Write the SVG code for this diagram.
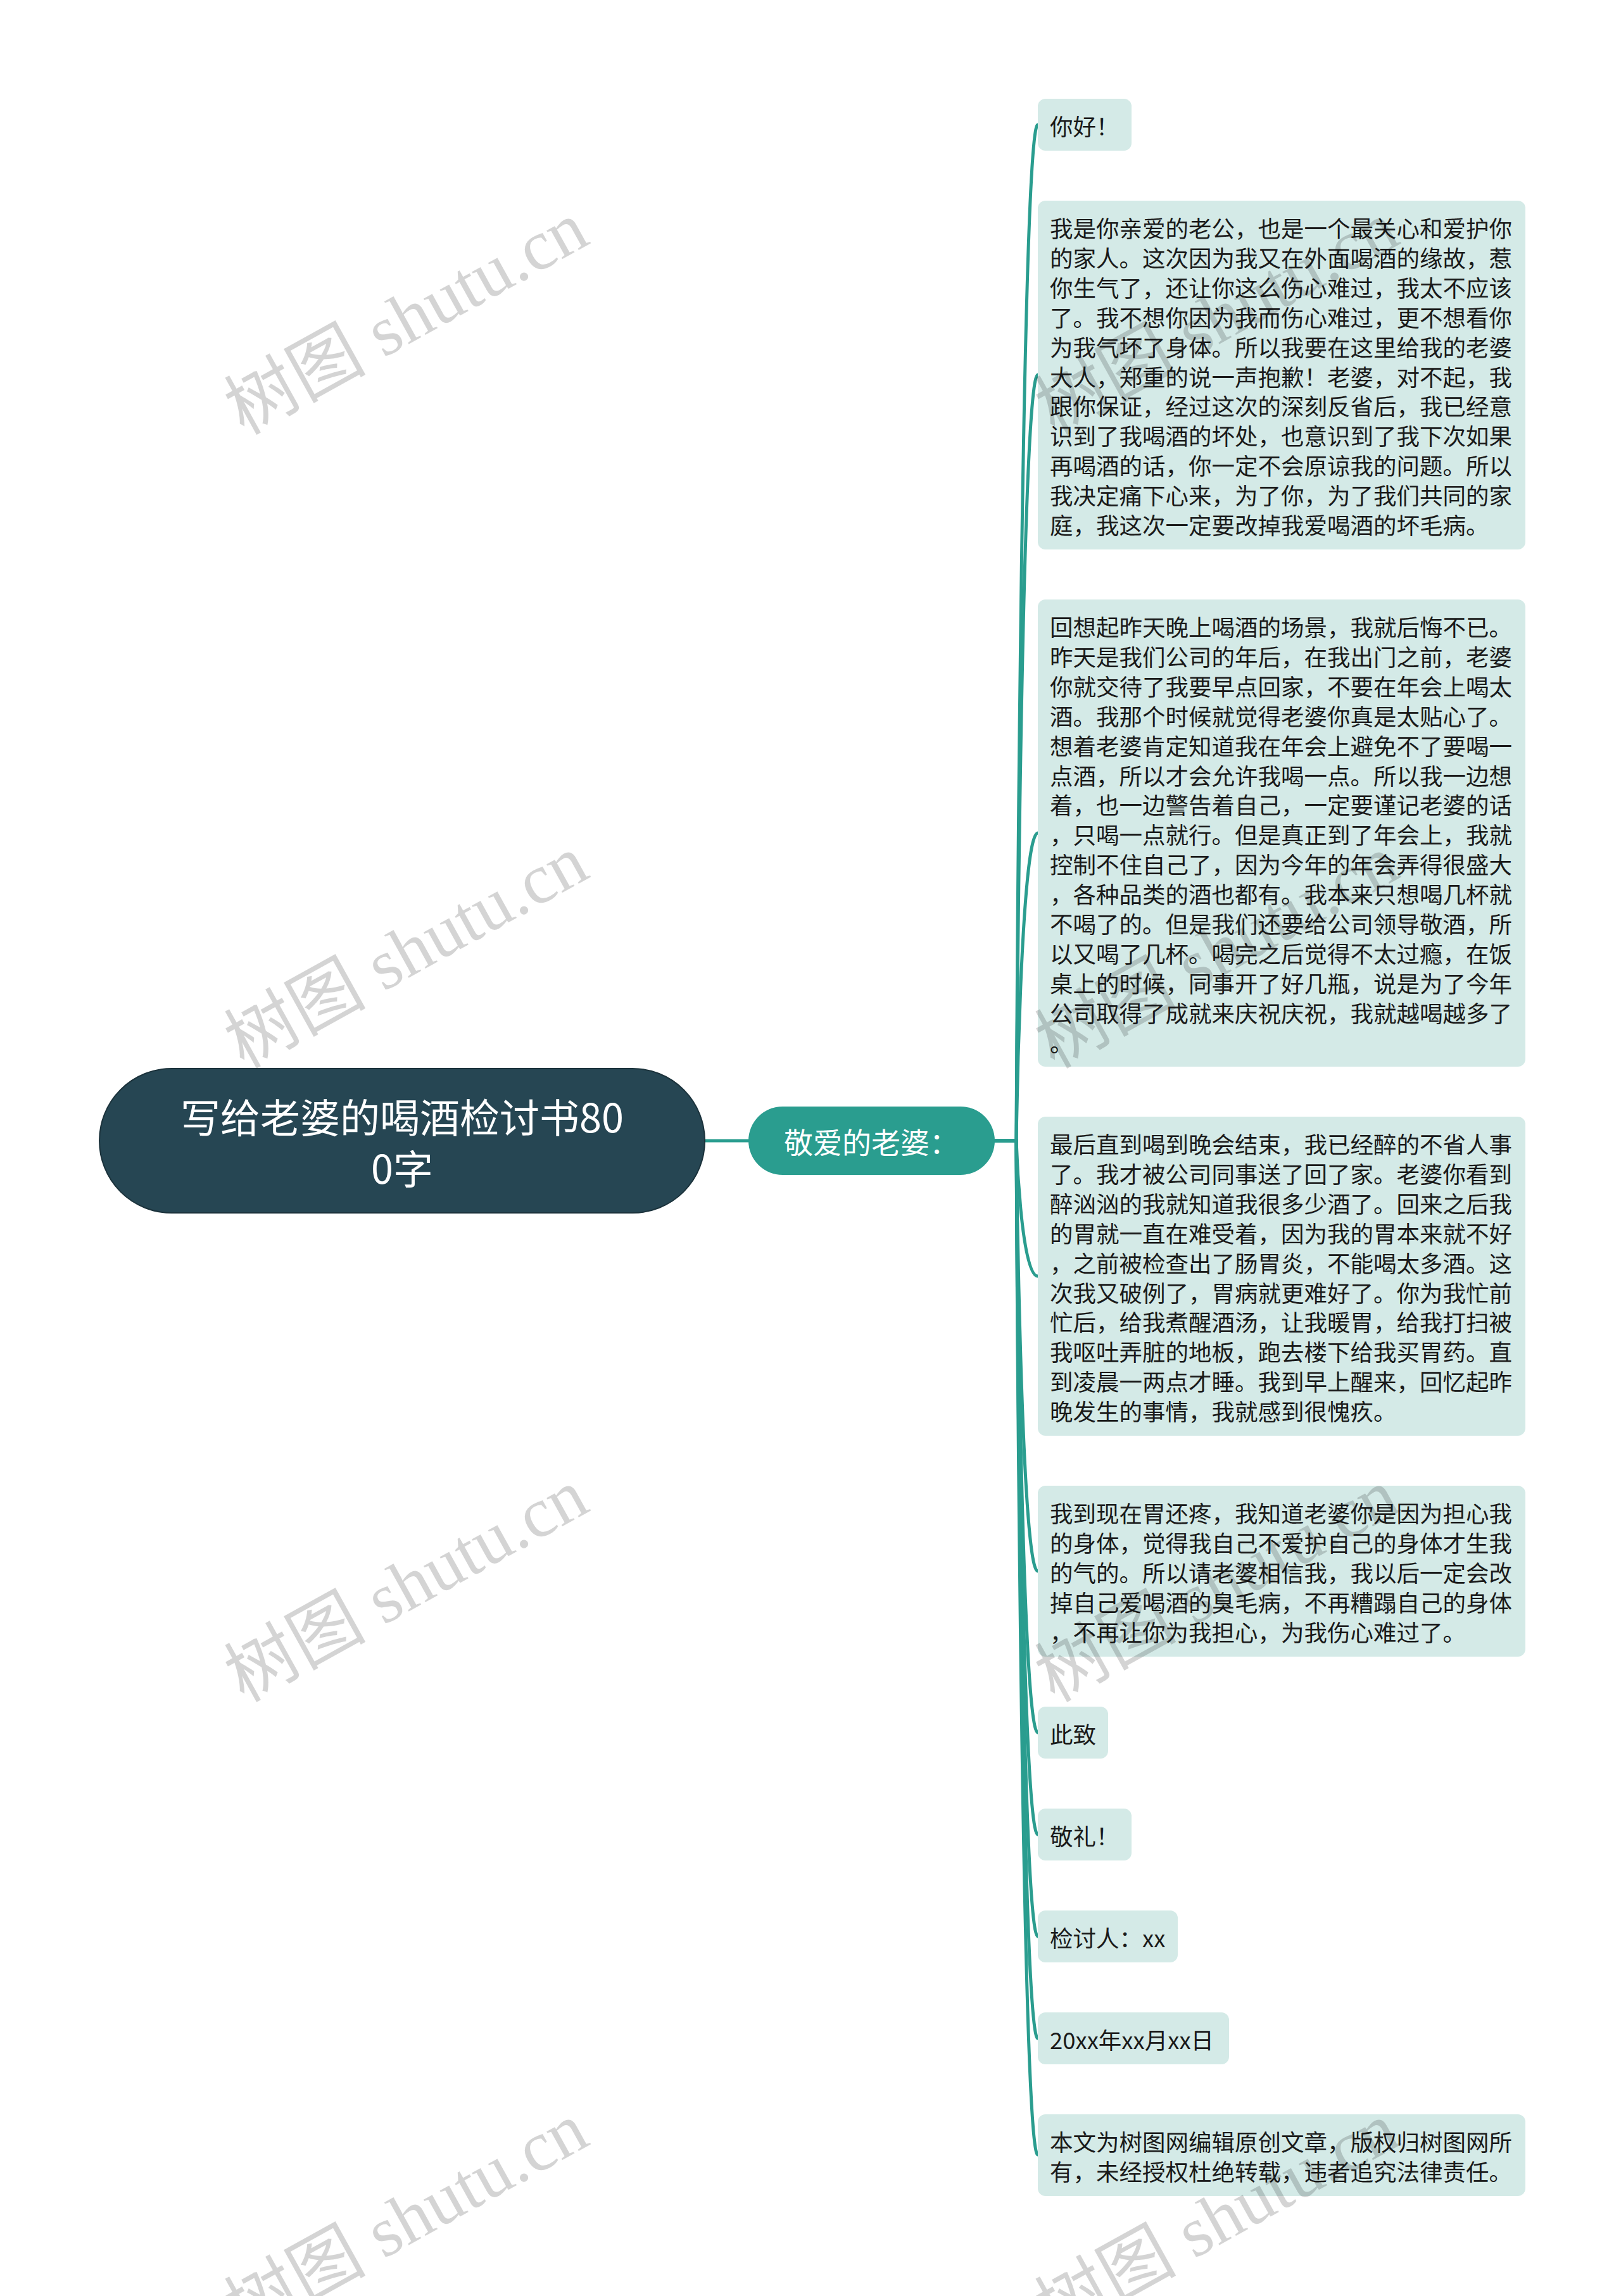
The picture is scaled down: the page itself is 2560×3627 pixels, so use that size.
<svg xmlns="http://www.w3.org/2000/svg" width="2560" height="3627" viewBox="0 0 2560 3627">
<style>
.leaf rect{fill:#d4eae7;}
.leaf text, .leaf{font-family:"Noto Sans CJK SC","Noto Sans",sans-serif;font-size:36.5px;fill:#1a1a1a;}
.conn{fill:none;stroke:#2a9d8f;stroke-width:5;stroke-linecap:round;}
.wm{font-family:"Liberation Serif","Noto Sans CJK SC",serif;font-size:112px;fill:#000;fill-opacity:0.17;}
</style>
<rect x="0" y="0" width="2560" height="3627" fill="#ffffff"/>
<g id="connectors">
<line class="conn" x1="1113" y1="1802" x2="1182" y2="1802"/>
<path class="conn" d="M1571,1802 H1605 C1605,1802 1612,197 1639,197"/>
<path class="conn" d="M1571,1802 H1605 C1605,1802 1612,592 1639,592"/>
<path class="conn" d="M1571,1802 H1605 C1605,1802 1612,1316 1639,1316"/>
<path class="conn" d="M1571,1802 H1605 C1605,1802 1612,2016 1639,2016"/>
<path class="conn" d="M1571,1802 H1605 C1605,1802 1612,2482 1639,2482"/>
<path class="conn" d="M1571,1802 H1605 C1605,1802 1612,2737 1639,2737"/>
<path class="conn" d="M1571,1802 H1605 C1605,1802 1612,2898 1639,2898"/>
<path class="conn" d="M1571,1802 H1605 C1605,1802 1612,3059 1639,3059"/>
<path class="conn" d="M1571,1802 H1605 C1605,1802 1612,3220 1639,3220"/>
<path class="conn" d="M1571,1802 H1605 C1605,1802 1612,3404 1639,3404"/>
</g>
<g id="root">
<rect x="157" y="1688" width="956" height="228" rx="114" ry="114" fill="#264653" stroke="#1b323b" stroke-width="2"/>
<text x="635" y="1789" text-anchor="middle" font-family="Noto Sans CJK SC, sans-serif" font-size="63" fill="#ffffff">写给老婆的喝酒检讨书80</text>
<text x="635" y="1870" text-anchor="middle" font-family="Noto Sans CJK SC, sans-serif" font-size="63" fill="#ffffff">0字</text>
</g>
<g id="branch">
<rect x="1182" y="1748" width="389" height="108" rx="54" ry="54" fill="#2a9d8f"/>
<text x="1376" y="1822" text-anchor="middle" font-family="Noto Sans CJK SC, sans-serif" font-size="46" fill="#ffffff">敬爱的老婆：</text>
</g>
<g id="leaf1" class="leaf">
<rect x="1639" y="156" width="148" height="82" rx="12"/>
<text x="1658" y="214">你好！</text>
</g>
<g id="leaf2" class="leaf">
<rect x="1639" y="317" width="770" height="551" rx="12"/>
<text x="1658" y="375">我是你亲爱的老公，也是一个最关心和爱护你</text>
<text x="1658" y="421.9">的家人。这次因为我又在外面喝酒的缘故，惹</text>
<text x="1658" y="468.8">你生气了，还让你这么伤心难过，我太不应该</text>
<text x="1658" y="515.7">了。我不想你因为我而伤心难过，更不想看你</text>
<text x="1658" y="562.6">为我气坏了身体。所以我要在这里给我的老婆</text>
<text x="1658" y="609.5">大人，郑重的说一声抱歉！老婆，对不起，我</text>
<text x="1658" y="656.4">跟你保证，经过这次的深刻反省后，我已经意</text>
<text x="1658" y="703.3">识到了我喝酒的坏处，也意识到了我下次如果</text>
<text x="1658" y="750.2">再喝酒的话，你一定不会原谅我的问题。所以</text>
<text x="1658" y="797.1">我决定痛下心来，为了你，为了我们共同的家</text>
<text x="1658" y="844">庭，我这次一定要改掉我爱喝酒的坏毛病。</text>
</g>
<g id="leaf3" class="leaf">
<rect x="1639" y="947" width="770" height="738" rx="12"/>
<text x="1658" y="1005">回想起昨天晚上喝酒的场景，我就后悔不已。</text>
<text x="1658" y="1051.9">昨天是我们公司的年后，在我出门之前，老婆</text>
<text x="1658" y="1098.8">你就交待了我要早点回家，不要在年会上喝太</text>
<text x="1658" y="1145.7">酒。我那个时候就觉得老婆你真是太贴心了。</text>
<text x="1658" y="1192.6">想着老婆肯定知道我在年会上避免不了要喝一</text>
<text x="1658" y="1239.5">点酒，所以才会允许我喝一点。所以我一边想</text>
<text x="1658" y="1286.4">着，也一边警告着自己，一定要谨记老婆的话</text>
<text x="1658" y="1333.3">，只喝一点就行。但是真正到了年会上，我就</text>
<text x="1658" y="1380.2">控制不住自己了，因为今年的年会弄得很盛大</text>
<text x="1658" y="1427.1">，各种品类的酒也都有。我本来只想喝几杯就</text>
<text x="1658" y="1474">不喝了的。但是我们还要给公司领导敬酒，所</text>
<text x="1658" y="1520.9">以又喝了几杯。喝完之后觉得不太过瘾，在饭</text>
<text x="1658" y="1567.8">桌上的时候，同事开了好几瓶，说是为了今年</text>
<text x="1658" y="1614.7">公司取得了成就来庆祝庆祝，我就越喝越多了</text>
<text x="1658" y="1661.6">。</text>
</g>
<g id="leaf4" class="leaf">
<rect x="1639" y="1764" width="770" height="504" rx="12"/>
<text x="1658" y="1822">最后直到喝到晚会结束，我已经醉的不省人事</text>
<text x="1658" y="1868.9">了。我才被公司同事送了回了家。老婆你看到</text>
<text x="1658" y="1915.8">醉汹汹的我就知道我很多少酒了。回来之后我</text>
<text x="1658" y="1962.7">的胃就一直在难受着，因为我的胃本来就不好</text>
<text x="1658" y="2009.6">，之前被检查出了肠胃炎，不能喝太多酒。这</text>
<text x="1658" y="2056.5">次我又破例了，胃病就更难好了。你为我忙前</text>
<text x="1658" y="2103.4">忙后，给我煮醒酒汤，让我暖胃，给我打扫被</text>
<text x="1658" y="2150.3">我呕吐弄脏的地板，跑去楼下给我买胃药。直</text>
<text x="1658" y="2197.2">到凌晨一两点才睡。我到早上醒来，回忆起昨</text>
<text x="1658" y="2244.1">晚发生的事情，我就感到很愧疚。</text>
</g>
<g id="leaf5" class="leaf">
<rect x="1639" y="2347" width="770" height="270" rx="12"/>
<text x="1658" y="2405">我到现在胃还疼，我知道老婆你是因为担心我</text>
<text x="1658" y="2451.9">的身体，觉得我自己不爱护自己的身体才生我</text>
<text x="1658" y="2498.8">的气的。所以请老婆相信我，我以后一定会改</text>
<text x="1658" y="2545.7">掉自己爱喝酒的臭毛病，不再糟蹋自己的身体</text>
<text x="1658" y="2592.6">，不再让你为我担心，为我伤心难过了。</text>
</g>
<g id="leaf6" class="leaf">
<rect x="1639" y="2696" width="111" height="82" rx="12"/>
<text x="1658" y="2754">此致</text>
</g>
<g id="leaf7" class="leaf">
<rect x="1639" y="2857" width="148" height="82" rx="12"/>
<text x="1658" y="2915">敬礼！</text>
</g>
<g id="leaf8" class="leaf">
<rect x="1639" y="3018" width="221" height="82" rx="12"/>
<text x="1658" y="3076">检讨人：xx</text>
</g>
<g id="leaf9" class="leaf">
<rect x="1639" y="3179" width="302" height="82" rx="12"/>
<text x="1658" y="3237">20xx年xx月xx日</text>
</g>
<g id="leaf10" class="leaf">
<rect x="1639" y="3340" width="770" height="129" rx="12"/>
<text x="1658" y="3398">本文为树图网编辑原创文章，版权归树图网所</text>
<text x="1658" y="3444.9">有，未经授权杜绝转载，违者追究法律责任。</text>
</g>
<g id="watermarks">
<text class="wm" transform="translate(385,688) rotate(-29)">树图 shutu.cn</text>
<text class="wm" transform="translate(385,1689) rotate(-29)">树图 shutu.cn</text>
<text class="wm" transform="translate(385,2690) rotate(-29)">树图 shutu.cn</text>
<text class="wm" transform="translate(385,3691) rotate(-29)">树图 shutu.cn</text>
<text class="wm" transform="translate(1665,688) rotate(-29)">树图 shutu.cn</text>
<text class="wm" transform="translate(1665,1689) rotate(-29)">树图 shutu.cn</text>
<text class="wm" transform="translate(1665,2690) rotate(-29)">树图 shutu.cn</text>
<text class="wm" transform="translate(1665,3691) rotate(-29)">树图 shutu.cn</text>
</g>
</svg>
